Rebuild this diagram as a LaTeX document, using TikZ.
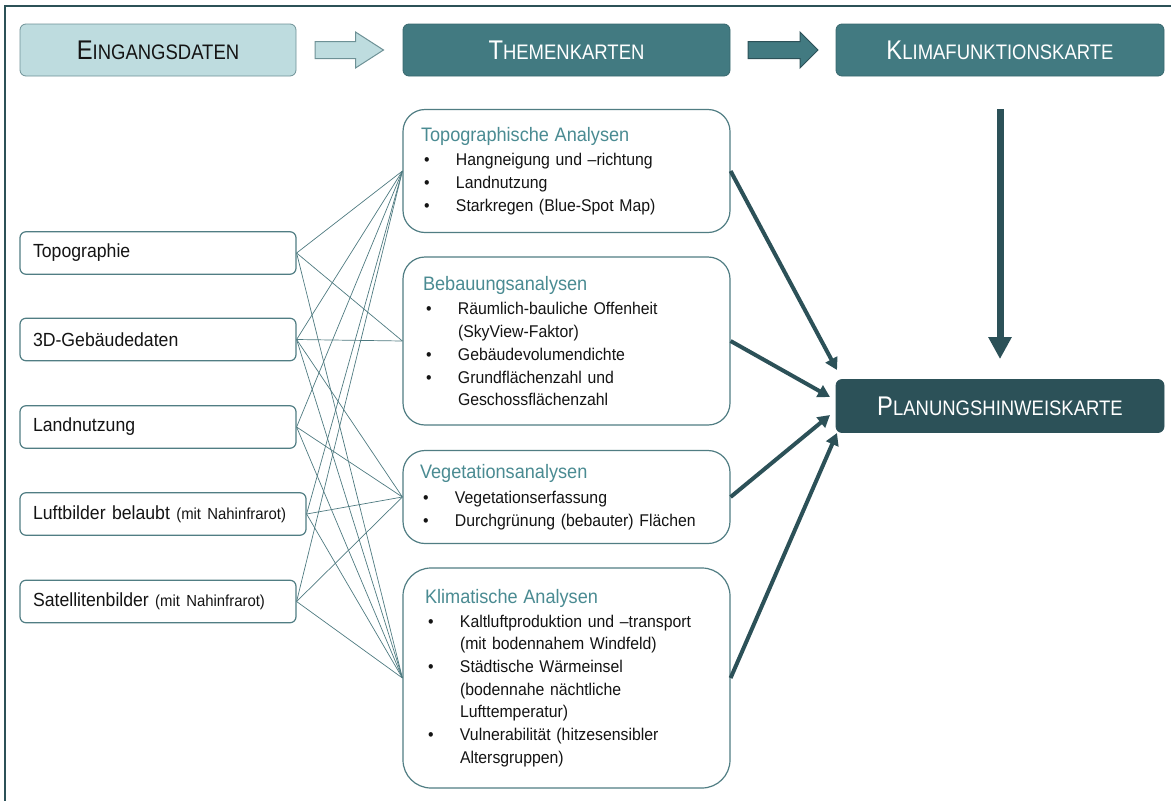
\documentclass[tikz,border=0pt]{standalone}
\usepackage{fontspec}
\setmainfont[FakeStretch=0.93]{Liberation Sans}
\newfontfamily\headfont[FakeStretch=0.88]{Liberation Sans}
\usetikzlibrary{arrows.meta,calc}

\definecolor{framecol}{RGB}{44,81,87}
\definecolor{lightfill}{RGB}{190,220,223}
\definecolor{lightdraw}{RGB}{110,145,150}
\definecolor{midteal}{RGB}{66,122,129}
\definecolor{darkteal}{RGB}{44,81,88}
\definecolor{boxline}{RGB}{80,125,131}
\definecolor{titlecol}{RGB}{74,139,146}
\definecolor{thinline}{RGB}{78,122,128}
\definecolor{txt}{RGB}{20,20,20}

\newcommand\capfirst[2]{{\fontsize{27}{27}\selectfont #1}{\fontsize{21}{21}\selectfont #2}}
\newcommand\itm[1]{\makebox[35pt][l]{\hspace*{3pt}\textbullet}#1}
\newcommand\cnt[1]{\hspace*{35pt}#1}
\newcommand\ttl[1]{{\fontsize{19.5}{22.7}\selectfont\color{titlecol}#1}}
\newcommand\paren[1]{{\fontsize{16}{20}\selectfont #1}}

\begin{document}
\begin{tikzpicture}[x=1pt,y=-1pt,
  headbox/.style={rounded corners=6pt, minimum width=#1, minimum height=52pt, inner sep=0pt, font=\headfont, line width=0.8pt},
  inbox/.style={draw=boxline, line width=1.2pt, rounded corners=6pt, fill=white, minimum height=42.5pt, text width=#1, inner xsep=13pt, inner ysep=0pt, align=left, text=txt, font=\fontsize{19}{22}\selectfont},
  themebox/.style={draw=boxline, line width=1.2pt, rounded corners=22pt, fill=white, minimum width=327pt, align=left, text=txt, font=\fontsize{17}{22.7}\selectfont},
  conn/.style={draw=thinline, line width=0.7pt},
  thickarr/.style={draw=darkteal, line width=4pt, -{Triangle[width=13pt,length=12pt]}},
  bigarr/.style={draw=darkteal, line width=7pt, -{Triangle[width=22pt,length=22pt]}}
]
\useasboundingbox (0,0) rectangle (1171,801);

% frame
\draw[framecol, line width=2pt] (5,801) -- (5,6) -- (1171,6);

% header boxes
\node[headbox=276pt, fill=lightfill, draw=lightdraw, text=txt] (ein) at (158,50) {\capfirst{E}{INGANGSDATEN}};
\node[headbox=327pt, fill=midteal, draw=midteal!85!black, text=white] (them) at (566.5,50) {\capfirst{T}{HEMENKARTEN}};
\node[headbox=328pt, fill=midteal, draw=midteal!85!black, text=white] (klif) at (1000,50) {\capfirst{K}{LIMAFUNKTIONSKARTE}};
\node[headbox=328pt, minimum height=53pt, fill=darkteal, draw=darkteal, text=white] (plan) at (1000,406) {\capfirst{P}{LANUNGSHINWEISKARTE}};

% block arrows
\coordinate (a1) at ($(ein.east)!0.5!(them.west)$);
\begin{scope}[shift={(a1)}]
\draw[draw=lightdraw, fill=lightfill, line width=1pt] (-34.5,-8.5) -- (6,-8.5) -- (6,-18) -- (34,0) -- (6,18) -- (6,8.5) -- (-34.5,8.5) -- cycle;
\end{scope}
\coordinate (a2) at ($(them.east)!0.5!(klif.west)$);
\begin{scope}[shift={(a2)}]
\draw[draw=darkteal, fill=midteal, line width=1pt] (-35,-8.5) -- (17,-8.5) -- (17,-18) -- (35,0) -- (17,18) -- (17,8.5) -- (-35,8.5) -- cycle;
\end{scope}

% input boxes
\node[inbox=250pt] (topi) at (158,253) {Topographie};
\node[inbox=250pt] (geb) at (158,339.5) {3D-Gebäudedaten};
\node[inbox=250pt] (land) at (158,427) {Landnutzung};
\node[inbox=260pt] (luft) at (163,514) {Luftbilder belaubt \paren{(mit Nahinfrarot)}};
\node[inbox=250pt] (sat) at (158,601.5) {Satellitenbilder \paren{(mit Nahinfrarot)}};

% theme boxes
\node[themebox, inner xsep=18pt, text width=291pt, minimum height=123pt] (topo) at (566.5,171) {%
\ttl{Topographische Analysen}\\[2pt]
\itm{Hangneigung und –richtung}\\
\itm{Landnutzung}\\
\itm{Starkregen (Blue-Spot Map)}};
\node[themebox, inner xsep=20pt, text width=287pt, minimum height=168pt] (beb) at (566.5,341) {%
\ttl{Bebauungsanalysen}\\[2pt]
\itm{Räumlich-bauliche Offenheit}\\
\cnt{(SkyView-Faktor)}\\
\itm{Gebäudevolumendichte}\\
\itm{Grundflächenzahl und}\\
\cnt{Geschossflächenzahl}};
\node[themebox, inner xsep=17pt, text width=293pt, minimum height=93pt] (veg) at (566.5,497) {%
\ttl{Vegetationsanalysen}\\[2pt]
\itm{Vegetationserfassung}\\
\itm{Durchgrünung (bebauter) Flächen}};
\node[themebox, rounded corners=28pt, inner xsep=22pt, text width=283pt, minimum height=220pt] (klim) at (566.5,678) {%
\ttl{Klimatische Analysen}\\[1pt]
\itm{Kaltluftproduktion und –transport}\\
\cnt{(mit bodennahem Windfeld)}\\
\itm{Städtische Wärmeinsel}\\
\cnt{(bodennahe nächtliche}\\
\cnt{Lufttemperatur)}\\
\itm{Vulnerabilität (hitzesensibler}\\
\cnt{Altersgruppen)}};

% thin connectors
\foreach \a/\b in {topi/topo, topi/beb, topi/klim,
                   geb/topo, geb/beb, geb/veg, geb/klim,
                   land/topo, land/veg, land/klim,
                   luft/topo, luft/veg, luft/klim,
                   sat/topo, sat/veg, sat/klim}
  \draw[conn] (\a.east) -- (\b.west);

% thick arrows to Planungshinweiskarte
\coordinate (e1) at (837,370);
\coordinate (e2) at (830,397);
\coordinate (e3) at (830,415);
\coordinate (e4) at (837,433);
\draw[thickarr] (topo.east) -- (e1);
\draw[thickarr] (beb.east) -- (e2);
\draw[thickarr] (veg.east) -- (e3);
\draw[thickarr] (klim.east) -- (e4);

% vertical arrow
\draw[bigarr, shorten <=33pt, shorten >=20pt] (klif.south) -- (plan.north);
\end{tikzpicture}
\end{document}
